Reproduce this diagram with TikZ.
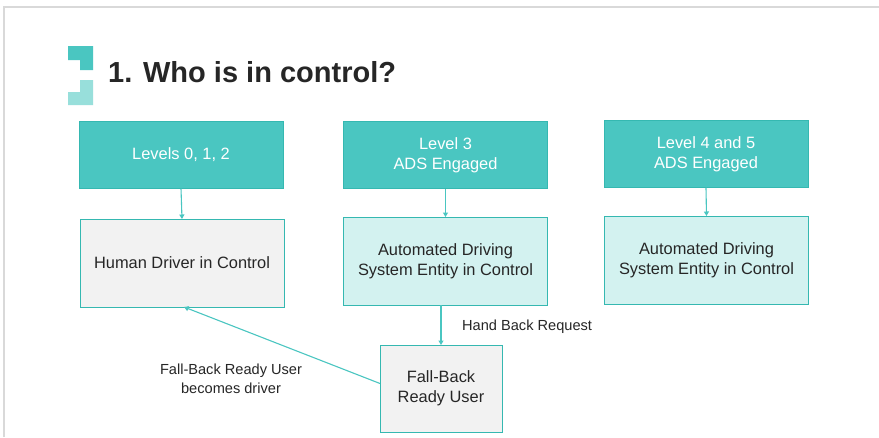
\documentclass[tikz,border=0pt]{standalone}
\usepackage{fontspec}
\setmainfont{Liberation Sans}
\usetikzlibrary{arrows.meta}
\definecolor{teal1}{HTML}{4AC6C1}
\definecolor{tealedge}{HTML}{35B8B1}
\definecolor{teallight}{HTML}{D3F2F0}
\definecolor{logolight}{HTML}{98DFDB}
\definecolor{greybox}{HTML}{F2F2F2}
\definecolor{textdark}{HTML}{262626}
\definecolor{frame}{HTML}{D9D9D9}
\tikzset{
  basebox/.style={draw=tealedge, line width=1pt, minimum width=204pt, inner sep=0pt, outer sep=0pt,
    align=center, font=\fontsize{16.4}{20}\selectfont},
  levelbox/.style={basebox, fill=teal1, text=white, minimum height=67pt},
  adsbox/.style={basebox, fill=teallight, text=textdark, minimum height=88pt},
  humanbox/.style={basebox, fill=greybox, text=textdark, minimum height=88pt},
  link/.style={draw=teal1, line width=1.1pt, -{Triangle[length=4.5pt,width=5pt]}},
  note/.style={text=textdark, align=center, font=\fontsize{14.6}{19}\selectfont, inner sep=0pt}
}
\begin{document}
\begin{tikzpicture}[x=1pt,y=-1pt]
\useasboundingbox (0,0) rectangle (879,437);
\fill[white] (0,0) rectangle (879,437);
% slide frame
\draw[frame, line width=1.2pt] (4,437) -- (4,7) -- (879,7);
% logo
\fill[teal1] (68,46) -- (93,46) -- (93,70) -- (80,70) -- (80,60) -- (68,60) -- cycle;
\fill[logolight] (80,80) -- (93,80) -- (93,105) -- (68,105) -- (68,92) -- (80,92) -- cycle;
% title
\node[anchor=base west, inner sep=0pt, text=textdark, font=\fontsize{29}{34}\selectfont\bfseries]
  (title) at (108,82) {1. Who is in control?};
% level boxes
\node[levelbox] (b1) at (181,155) {Levels 0, 1, 2};
\node[levelbox] (b2) at (445.5,155) {Level 3\\ADS Engaged};
\node[levelbox] (b3) at (706,154) {Level 4 and 5\\ADS Engaged};
% control boxes
\node[humanbox] (b4) at (182,263) {Human Driver in Control};
\node[adsbox] (b5) at (445.5,261) {Automated Driving\\System Entity in Control};
\node[adsbox] (b6) at (706.5,260) {Automated Driving\\System Entity in Control};
\node[humanbox, minimum width=122pt, minimum height=87pt] (b7) at (441,388.5) {Fall-Back\\Ready User};
% connectors
\draw[link] (b1.south) -- (b4.north);
\draw[link] (b2.south) -- (b5.north);
\draw[link] (b3.south) -- (b6.north);
\draw[link] (b7.north |- b5.south) -- (b7.north);
\draw[link] ([yshift=5pt]b7.west) -- ([xshift=2pt]b4.south);
% labels
\node[note, anchor=west] (hb) at (462,327) {Hand Back Request};
\node[note] (fb) at (231,378.5) {Fall-Back Ready User\\becomes driver};
\end{tikzpicture}
\end{document}
